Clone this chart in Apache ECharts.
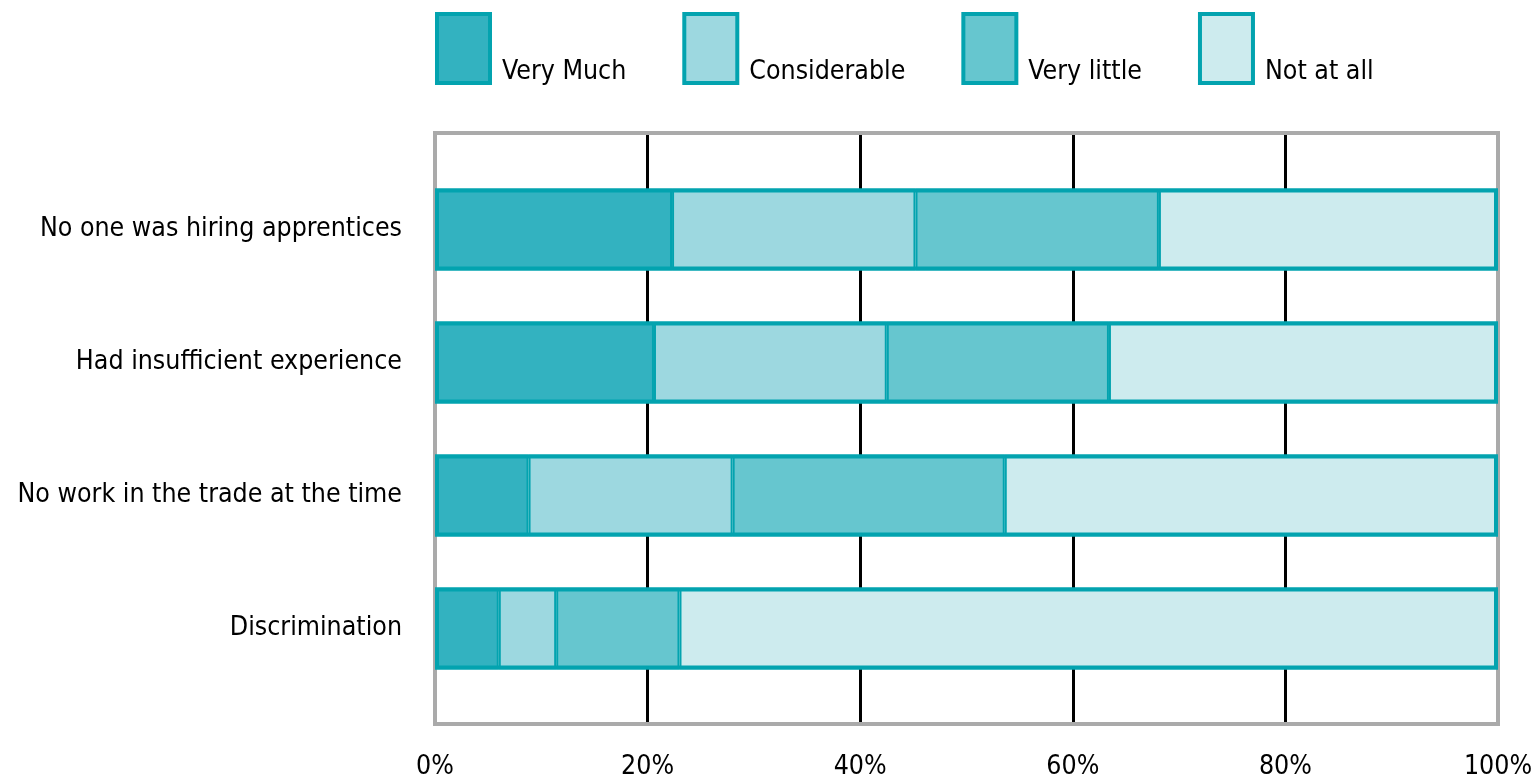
<!DOCTYPE html>
<html>
<head>
<meta charset="utf-8">
<script src="https://cdn.jsdelivr.net/npm/echarts@6/dist/echarts.min.js"></script>
<style>
  html, body { margin: 0; padding: 0; background: #fff; }
  #chart { width: 1537px; height: 782px; }
</style>
</head>
<body>
<div id="chart"></div>
<script>
// Reasons for not getting an apprenticeship, share of respondents (%)
const categories = [
  'No one was hiring apprentices',
  'Had insufficient experience',
  'No work in the trade at the time',
  'Discrimination'
];
const seriesNames = ['Very Much', 'Considerable', 'Very little', 'Not at all'];
const veryMuch     = [22.3, 20.6,  8.8,  6.0];
const considerable = [22.9, 21.9, 19.2,  5.4];
const veryLittle   = [22.9, 20.9, 25.6, 11.6];
const notAtAll     = [31.9, 36.6, 46.4, 77.0];
const xTicks = [0, 20, 40, 60, 80, 100];

const fills = ['#33B2C0', '#9DD8E0', '#66C6CF', '#CDEBEE'];
const edge = '#03A3AF';
const font = '"DejaVu Sans Condensed", "Liberation Sans Narrow", sans-serif';
const fs = 26.5;

const values = [veryMuch, considerable, veryLittle, notAtAll];
// full length of each bar, used for the outline drawn around the stack
const totals = categories.map((_, i) => values.reduce((s, arr) => s + arr[i], 0));

const segmentSeries = seriesNames.map((name, i) => ({
  name: name,
  type: 'bar',
  stack: 'total',
  xAxisIndex: 1,
  yAxisIndex: 1,
  barWidth: 82,
  barGap: '-100%',
  data: values[i],
  itemStyle: { color: fills[i], borderColor: edge, borderWidth: 2 },
  z: 2
}));

const outlineSeries = {
  type: 'bar',
  xAxisIndex: 1,
  yAxisIndex: 1,
  barWidth: 82,
  barGap: '-100%',
  data: totals,
  silent: true,
  itemStyle: { color: 'transparent', borderColor: edge, borderWidth: 4 },
  z: 3
};

const chart = echarts.init(document.getElementById('chart'));
chart.setOption({
  animation: false,
  backgroundColor: '#fff',
  textStyle: { fontFamily: font },
  legend: {
    left: 430,
    top: 7,
    itemWidth: 53,
    itemHeight: 69,
    itemGap: 56,
    icon: 'rect',
    data: seriesNames,
    itemStyle: { borderColor: edge, borderWidth: 4 },
    formatter: '{t|{name}}',
    textStyle: {
      fontFamily: font,
      rich: { t: { fontSize: fs, color: '#000', fontFamily: font, padding: [48, 0, 0, 7] } }
    }
  },
  grid: [
    { left: 435, top: 133, width: 1063, height: 591, show: true,
      borderColor: '#aaaaaa', borderWidth: 4, z: 1, outerBoundsMode: 'none' },
    { left: 435, top: 163, width: 1063, height: 532, outerBoundsMode: 'none' }
  ],
  xAxis: [
    {
      gridIndex: 0, type: 'value', min: xTicks[0], max: xTicks[xTicks.length - 1], interval: 20,
      axisLine: { show: false }, axisTick: { show: false },
      axisLabel: { formatter: '{value}%', fontSize: fs, color: '#000', margin: 30, fontFamily: font },
      splitLine: { show: true, showMinLine: false, showMaxLine: false,
                   lineStyle: { color: '#000', width: 3 } }
    },
    { gridIndex: 1, type: 'value', min: 0, max: 100, show: false }
  ],
  yAxis: [
    { gridIndex: 0, type: 'value', show: false },
    {
      gridIndex: 1, type: 'category', data: categories, inverse: true,
      axisLine: { show: false }, axisTick: { show: false },
      axisLabel: { fontSize: fs, color: '#000', margin: 33, fontFamily: font }
    }
  ],
  series: segmentSeries.concat([outlineSeries])
});
</script>
</body>
</html>
